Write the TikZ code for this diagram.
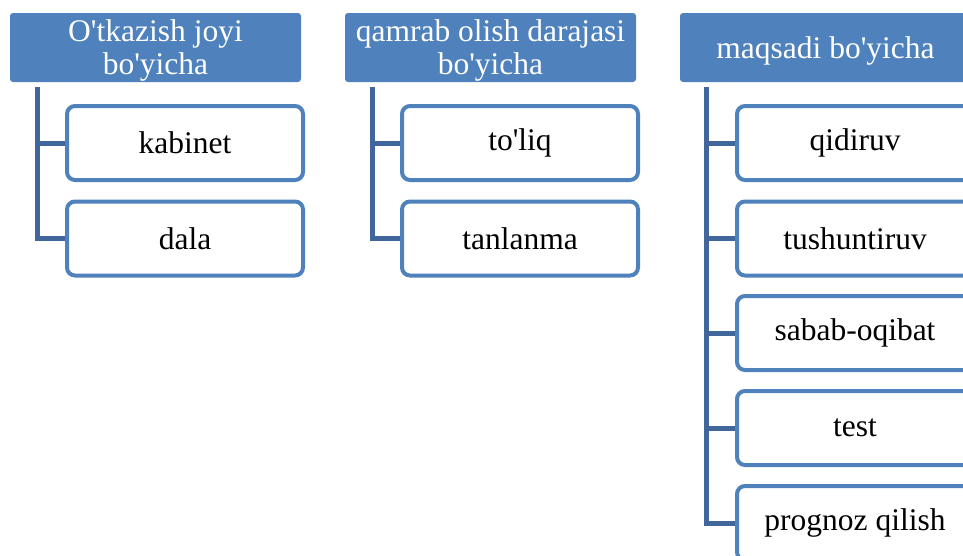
\documentclass[tikz,border=0pt]{standalone}
\usepackage{fontspec}
\setmainfont{Liberation Serif}[Ligatures=TeXOff]
\usepackage{tikz}

\definecolor{hdblue}{HTML}{4F81BD}
\definecolor{lnblue}{HTML}{41669B}
\newcommand{\hdtext}[1]{\raisebox{-4pt}[\height][\depth]{\begin{tabular}{@{}c@{}}#1\end{tabular}}}
\tikzset{
  head/.style={fill=hdblue, rounded corners=3pt, minimum width=291pt, minimum height=69pt,
    inner sep=0pt, text=white, font=\fontsize{31.5}{33}\selectfont},
  item/.style={draw=hdblue, line width=4pt, fill=white, rounded corners=8pt,
    minimum width=236pt, minimum height=74pt, inner sep=0pt, font=\fontsize{31.5}{33}\selectfont},
  link/.style={draw=lnblue, line width=5pt}
}

\begin{document}
\begin{tikzpicture}[x=1pt,y=-1pt]
    \useasboundingbox (0,0) rectangle (963,555);
    \clip (0,0) rectangle (963,555);
    % first column
    \node[head] (h1) at (155.5,47.5) {\hdtext{O'tkazish joyi\\bo'yicha}};
    \node[item] (k1) at (185,143) {kabinet};
    \node[item] (k2) at (185,238.5) {dala};
    % second column
    \node[head] (h2) at (490.5,47.5) {\hdtext{qamrab olish darajasi\\bo'yicha}};
    \node[item] (t1) at (520,143) {to'liq};
    \node[item] (t2) at (520,238.5) {tanlanma};
    % third column
    \node[head] (h3) at (825.5,47.5) {\hdtext{maqsadi bo'yicha}};
    \node[item] (m1) at (855,143) {qidiruv};
    \node[item] (m2) at (855,238.5) {tushuntiruv};
    \node[item] (m3) at (855,333) {sabab-oqibat};
    \node[item] (m4) at (855,428) {test};
    \node[item] (m5) at (855,523) {prognoz qilish};
    % spines
    \coordinate (s1) at ([xshift=27.5pt,yshift=-5pt]h1.south west);
    \coordinate (s2) at ([xshift=27.5pt,yshift=-5pt]h2.south west);
    \coordinate (s3) at ([xshift=27pt,yshift=-5pt]h3.south west);
    \draw[link] (s1) |- (k2.west);
    \draw[link] (s1 |- k1.west) -- (k1.west);
    \draw[link] (s2) |- (t2.west);
    \draw[link] (s2 |- t1.west) -- (t1.west);
    \draw[link] (s3) |- (m5.west);
    \draw[link] (s3 |- m1.west) -- (m1.west);
    \draw[link] (s3 |- m2.west) -- (m2.west);
    \draw[link] (s3 |- m3.west) -- (m3.west);
    \draw[link] (s3 |- m4.west) -- (m4.west);
\end{tikzpicture}
\end{document}
